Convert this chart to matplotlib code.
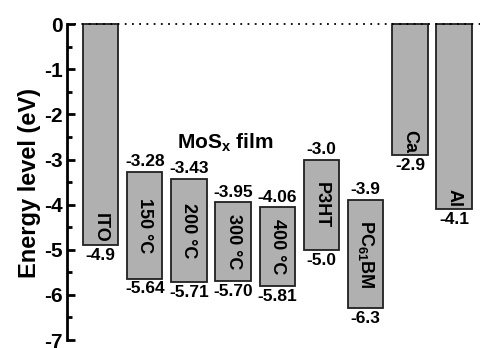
import matplotlib
matplotlib.use("Agg")
import matplotlib.pyplot as plt
from matplotlib.ticker import MultipleLocator

plt.rcParams['font.family'] = ['Liberation Sans', 'DejaVu Sans']
plt.rcParams['font.weight'] = 'bold'
plt.rcParams['axes.labelweight'] = 'bold'
plt.rcParams['mathtext.fontset'] = 'custom'
plt.rcParams['mathtext.rm'] = 'Liberation Sans:bold'
plt.rcParams['mathtext.it'] = 'Liberation Sans:bold'
plt.rcParams['mathtext.bf'] = 'Liberation Sans:bold'
plt.rcParams['mathtext.default'] = 'rm'

# energy levels (eV)
names = ["ITO", "150 °C", "200 °C", "300 °C", "400 °C", "P3HT", "PC$_{61}$BM", "Ca", "Al"]
tops = [0, -3.28, -3.43, -3.95, -4.06, -3.0, -3.9, 0, 0]
bottoms = [-4.9, -5.64, -5.71, -5.70, -5.81, -5.0, -6.3, -2.9, -4.1]
top_labels = ["", "-3.28", "-3.43", "-3.95", "-4.06", "-3.0", "-3.9", "", ""]
bottom_labels = ["-4.9", "-5.64", "-5.71", "-5.70", "-5.81", "-5.0", "-6.3", "-2.9", "-4.1"]
electrodes = ["ITO", "Ca", "Al"]

fig = plt.figure(figsize=(4.81, 3.48), dpi=100)
ax = fig.add_axes([0.1393, 0.0165, 0.8607, 0.9167])

x = list(range(len(names)))
heights = [t - b for t, b in zip(tops, bottoms)]
ax.bar(x, heights, bottom=bottoms, width=0.8, color='#b0b0b0',
       edgecolor='#202020', linewidth=1.3, zorder=2)

# dotted vacuum level
ax.axhline(0, color='black', linestyle=(0, (1, 3)), linewidth=1.3, zorder=3, clip_on=False)

for i, name in enumerate(names):
    if top_labels[i]:
        ax.annotate(top_labels[i], (x[i], tops[i]), xytext=(0, 2), textcoords='offset points',
                    ha='center', va='bottom', fontsize=12.5)
    ax.annotate(bottom_labels[i], (x[i], bottoms[i]), xytext=(0, -2), textcoords='offset points',
                ha='center', va='top', fontsize=12.5)
    if name in electrodes:
        ax.text(x[i], bottoms[i] + 0.05, name, rotation=-90, ha='center', va='bottom',
                fontsize=13, zorder=4)
    else:
        ax.text(x[i], (tops[i] + bottoms[i]) / 2, name, rotation=-90, ha='center',
                va='center', fontsize=13, zorder=4)

ax.text(2.82, -2.64, "MoS$_\\mathrm{x}$ film", ha='center', va='center', fontsize=15)

ax.set_xlim(-0.758, 8.608)
ax.set_ylim(-7.05, 0.02)
ax.yaxis.set_major_locator(MultipleLocator(1))
ax.yaxis.set_minor_locator(MultipleLocator(0.5))
ax.set_yticks(range(-7, 1))
ax.set_yticklabels([str(v) for v in range(-7, 1)])
ax.tick_params(axis='y', which='major', direction='in', length=6, width=2, labelsize=15, pad=3)
ax.tick_params(axis='y', which='minor', direction='in', length=3.5, width=2)
ax.set_xticks([])
for s in ['top', 'right', 'bottom']:
    ax.spines[s].set_visible(False)
ax.spines['left'].set_linewidth(2)
ax.spines['left'].set_bounds(-7, 0)
ax.set_ylabel("Energy level (eV)", fontsize=17, fontweight='bold', labelpad=2)
ax.patch.set_alpha(0)

fig.savefig("out.png", dpi=100)
